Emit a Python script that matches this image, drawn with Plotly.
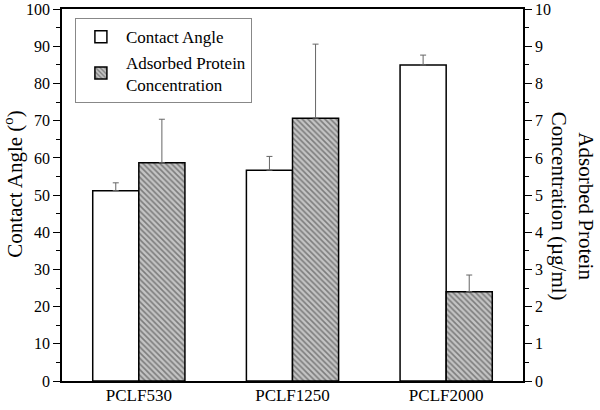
import plotly.graph_objects as go

categories = ["PCLF530", "PCLF1250", "PCLF2000"]
contact_angle = [51.2, 56.7, 85.0]
contact_angle_err = [2.1, 3.7, 2.65]
protein_conc = [5.87, 7.07, 2.40]
protein_conc_err = [1.17, 1.99, 0.45]
left_ticks = [0, 10, 20, 30, 40, 50, 60, 70, 80, 90, 100]
right_ticks = [0, 1, 2, 3, 4, 5, 6, 7, 8, 9, 10]

FONT = "Liberation Serif, Times New Roman, serif"

fig = go.Figure()
fig.add_trace(go.Bar(
    x=categories, y=contact_angle, name="Contact Angle",
    width=0.3, offset=-0.3,
    marker=dict(color="white", line=dict(color="black", width=1.5)),
    error_y=dict(type="data", symmetric=False, array=contact_angle_err,
                 arrayminus=[0, 0, 0], color="#666666", thickness=1, width=3),
    yaxis="y",
))
fig.add_trace(go.Bar(
    x=categories, y=protein_conc, name="Adsorbed Protein<br>Concentration",
    width=0.3, offset=0,
    marker=dict(color="#c4c4c4", line=dict(color="black", width=1.5),
                pattern=dict(shape="\\", fgcolor="#333333", bgcolor="#c4c4c4",
                             size=4, solidity=0.4)),
    error_y=dict(type="data", symmetric=False, array=protein_conc_err,
                 arrayminus=[0, 0, 0], color="#666666", thickness=1, width=3),
    yaxis="y2",
))

fig.update_layout(
    width=600, height=410,
    margin=dict(l=62, r=77, t=9, b=29),
    paper_bgcolor="white", plot_bgcolor="white",
    font=dict(family=FONT, size=16, color="black"),
    showlegend=True,
    legend=dict(x=0.028, y=0.975, xanchor="left", yanchor="top",
                bgcolor="white", bordercolor="#888888", borderwidth=1,
                font=dict(size=17, family=FONT), tracegroupgap=0,
                itemwidth=40),
    xaxis=dict(range=[-0.5, 2.5], showline=True, linecolor="black", linewidth=1.5,
               mirror=True, ticks="", tickfont=dict(size=17), showgrid=False,
               zeroline=False, automargin=False, ticklabelstandoff=-2),
    yaxis=dict(range=[0, 100.05], tickmode="array", tickvals=left_ticks,
               showline=True, linecolor="black",
               linewidth=1.5, ticks="outside", ticklen=7, tickwidth=1,
               tickcolor="black", minor=dict(dtick=5, ticks="outside", ticklen=4,
                                               tickcolor="black"),
               showgrid=False, zeroline=False, tickfont=dict(size=16),
               automargin=False, ticklabeloverflow="allow"),
    yaxis2=dict(range=[0, 10.005], tickmode="array", tickvals=right_ticks,
                overlaying="y", side="right",
                showline=True, linecolor="black", linewidth=1.5,
                ticks="outside", ticklen=7, tickwidth=1, tickcolor="black",
                minor=dict(dtick=0.5, ticks="outside", ticklen=4, tickcolor="black"),
                showgrid=False, zeroline=False, tickfont=dict(size=16),
                automargin=False, ticklabeloverflow="allow"),
    annotations=[
        dict(text="Contact Angle (<sup>o</sup>)", x=-0.104, y=0.528,
             xref="paper", yref="paper", xanchor="center", yanchor="middle",
             showarrow=False, textangle=-90,
             font=dict(size=21, family=FONT)),
        dict(text="Adsorbed Protein<br>Concentration (µg/ml)", x=1.108, y=0.469,
             xref="paper", yref="paper", xanchor="center", yanchor="middle",
             showarrow=False, textangle=90,
             font=dict(size=21, family=FONT)),
    ],
)

fig.write_html("out.html", config={"displayModeBar": False},
               post_script="document.body.style.margin='0';")
